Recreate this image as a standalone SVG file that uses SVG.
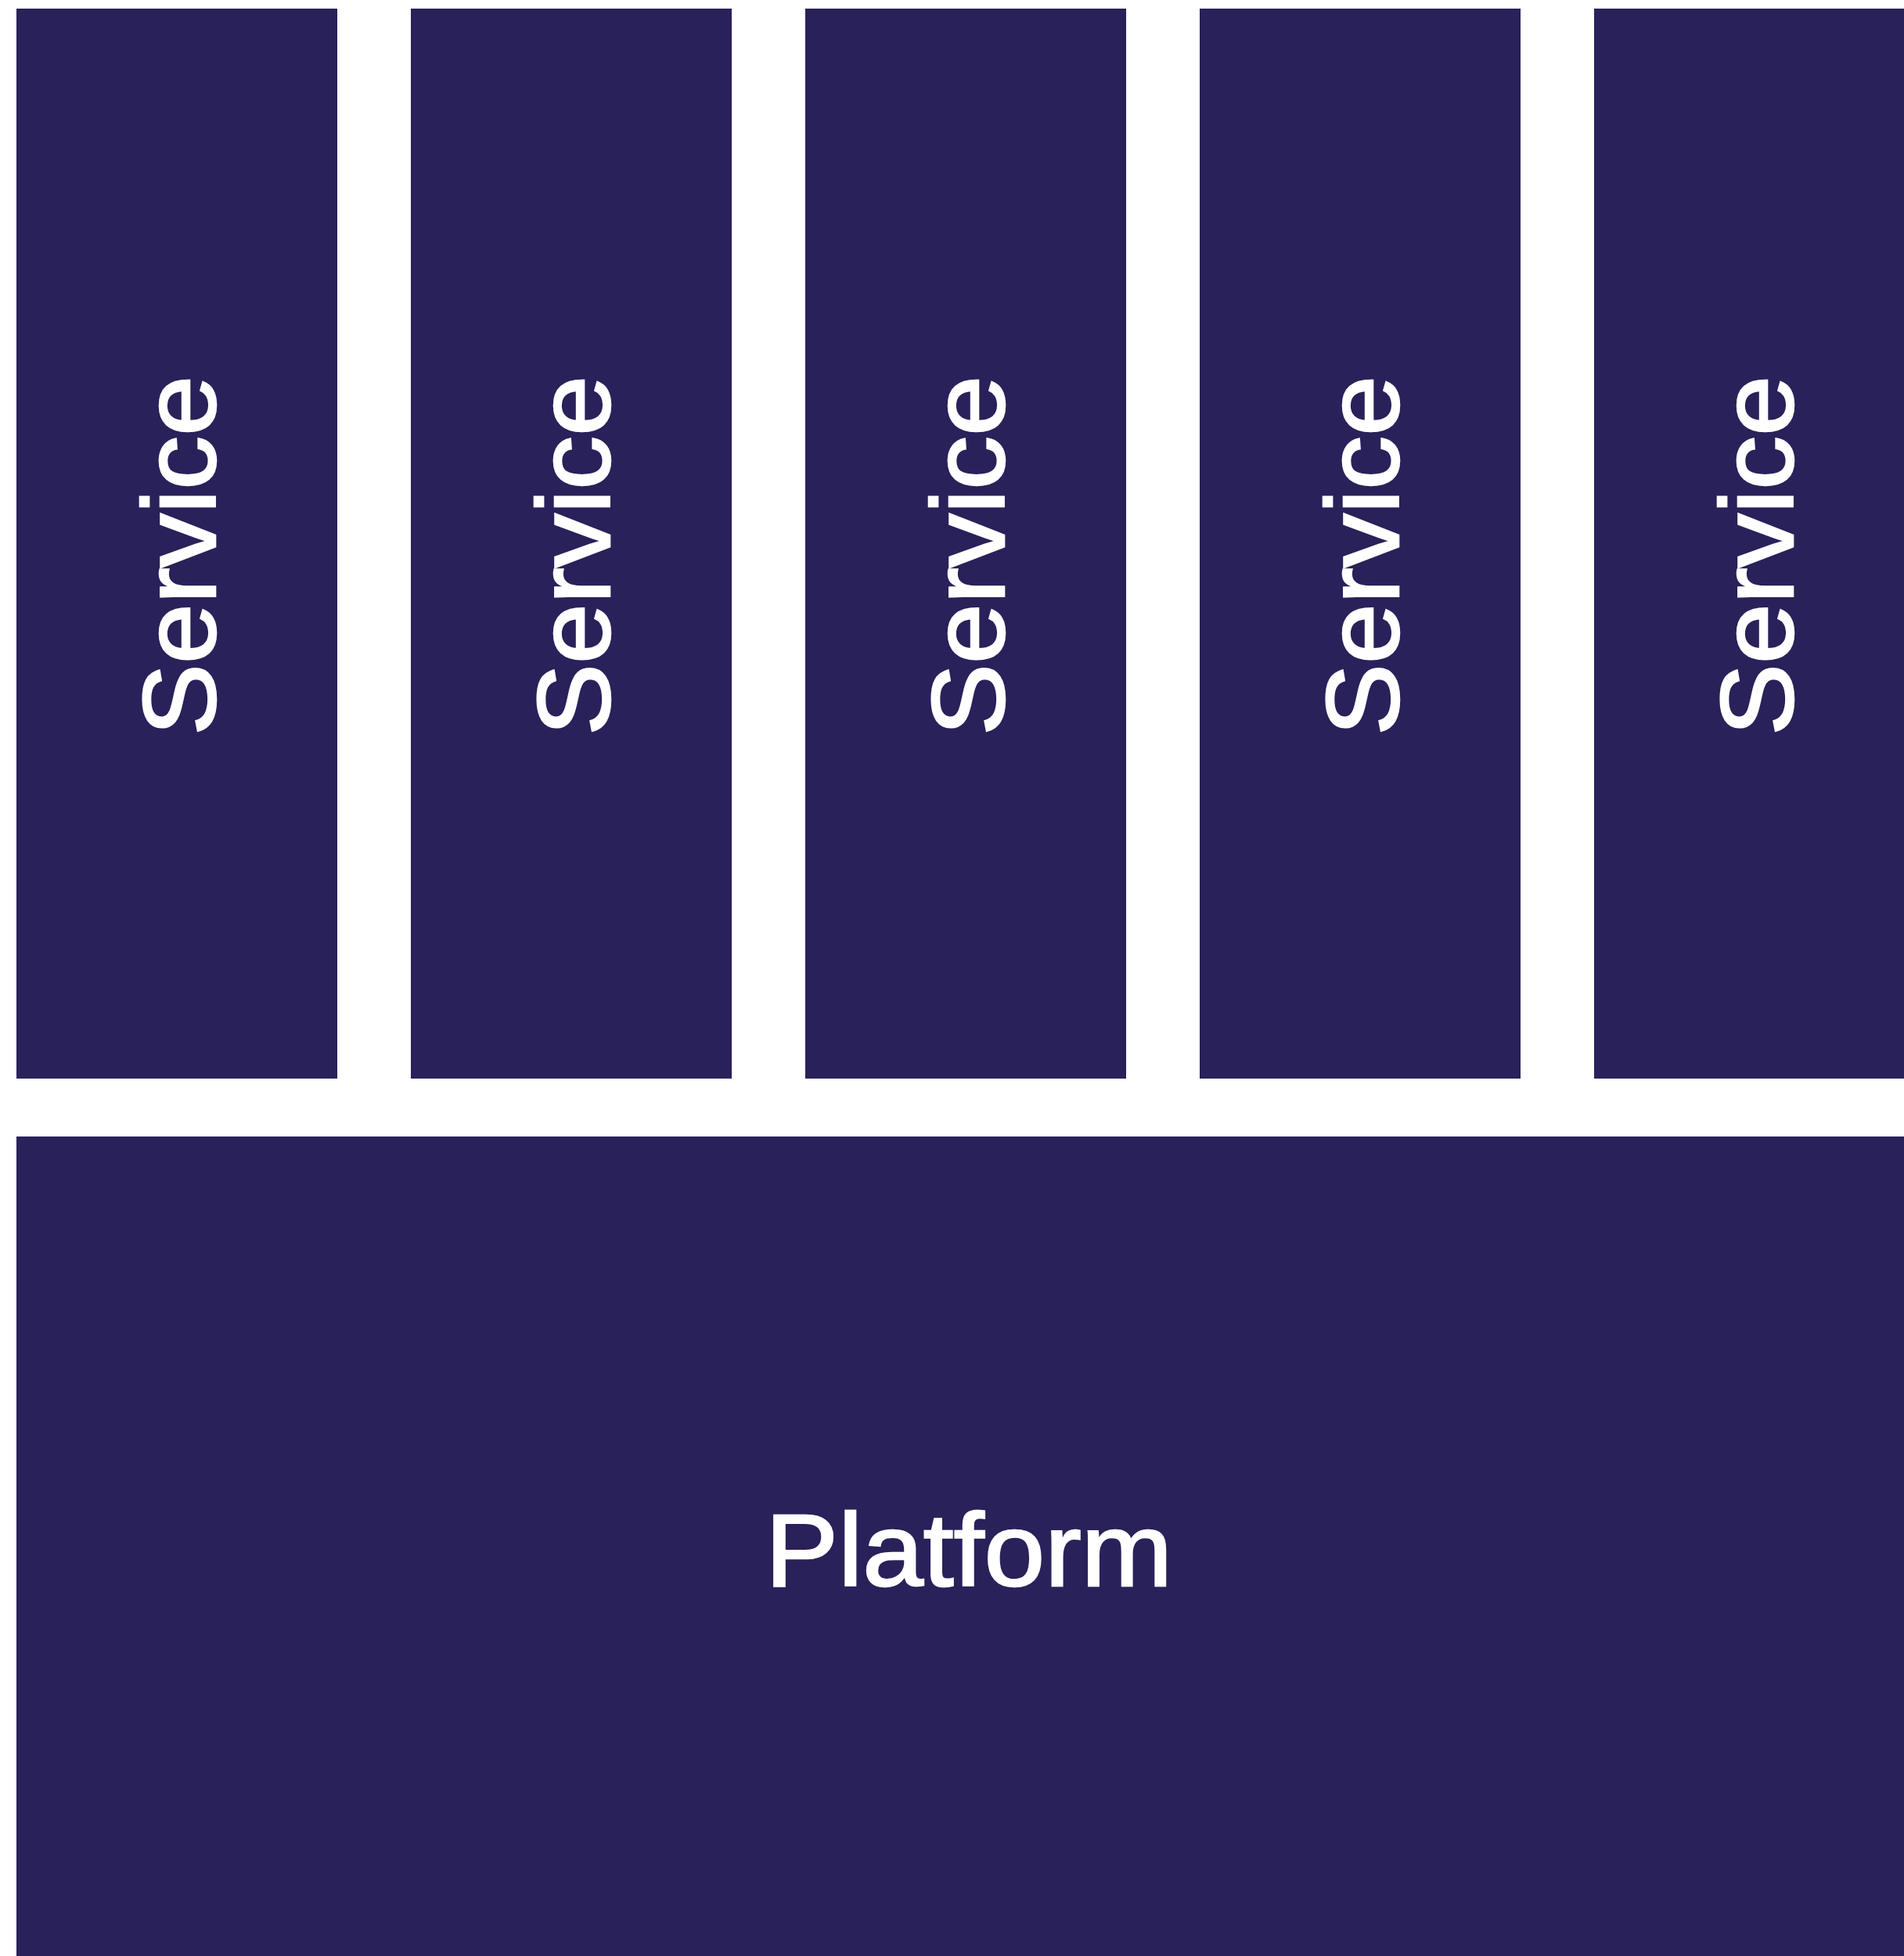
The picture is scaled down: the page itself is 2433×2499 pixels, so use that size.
<svg xmlns="http://www.w3.org/2000/svg" width="2433" height="2499" viewBox="0 0 2433 2499">
<style>
.box{fill:#29215a}
.lbl{fill:#ffffff;stroke:#ffffff;stroke-width:2.5px;font-family:"Liberation Sans",Arial,sans-serif;font-size:132px;text-anchor:middle}
</style>
<rect width="2433" height="2499" fill="#ffffff"/>
<g id="service1"><rect class="box" x="21" y="11" width="410" height="1367"/><text class="lbl" transform="translate(275,710) rotate(-90)" textLength="460" lengthAdjust="spacingAndGlyphs">Service</text></g>
<g id="service2"><rect class="box" x="525" y="11" width="410" height="1367"/><text class="lbl" transform="translate(779,710) rotate(-90)" textLength="460" lengthAdjust="spacingAndGlyphs">Service</text></g>
<g id="service3"><rect class="box" x="1029" y="11" width="410" height="1367"/><text class="lbl" transform="translate(1283,710) rotate(-90)" textLength="460" lengthAdjust="spacingAndGlyphs">Service</text></g>
<g id="service4"><rect class="box" x="1533" y="11" width="410" height="1367"/><text class="lbl" transform="translate(1787,710) rotate(-90)" textLength="460" lengthAdjust="spacingAndGlyphs">Service</text></g>
<g id="service5"><rect class="box" x="2037" y="11" width="410" height="1367"/><text class="lbl" transform="translate(2291,710) rotate(-90)" textLength="460" lengthAdjust="spacingAndGlyphs">Service</text></g>
<g id="platform"><rect class="box" x="21" y="1452" width="2430" height="1060"/><text class="lbl" x="1238" y="2026" textLength="520" lengthAdjust="spacingAndGlyphs">Platform</text></g>
<g id="connectors"></g>
</svg>
